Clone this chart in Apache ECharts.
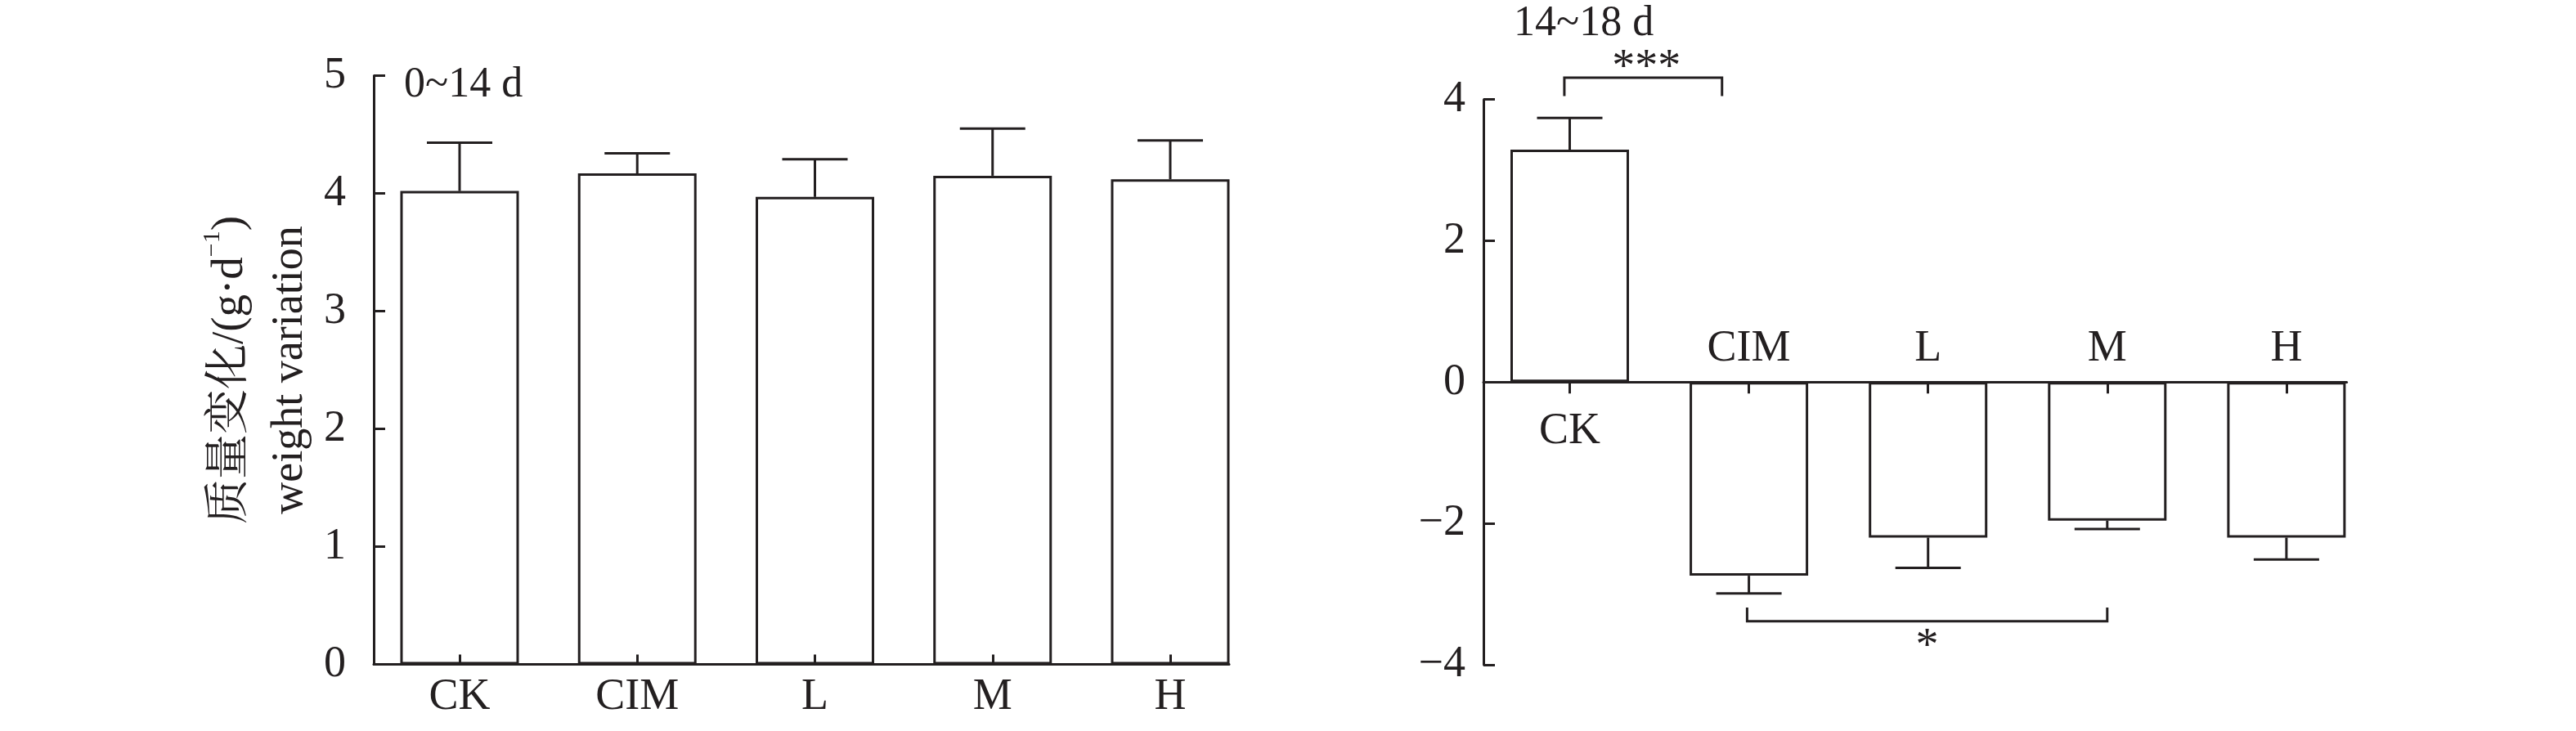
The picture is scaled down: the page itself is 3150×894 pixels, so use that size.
<!DOCTYPE html>
<html><head><meta charset="utf-8">
<script src="https://cdn.jsdelivr.net/npm/echarts@6/dist/echarts.min.js"></script>
<style>html,body{margin:0;padding:0;background:#fff}#c{width:3150px;height:894px}</style>
</head><body><div id="c"></div>
<script>
// ---- data ----
const categories = ['CK', 'CIM', 'L', 'M', 'H'];
const mean0to14 = [4.02, 4.17, 3.97, 4.15, 4.12];
const sd0to14 = [0.41, 0.17, 0.32, 0.40, 0.33];
const mean14to18 = [3.29, -2.74, -2.20, -1.96, -2.20];
const sd14to18 = [0.45, 0.25, 0.43, 0.12, 0.31];
const yTicksLeft = [0, 1, 2, 3, 4, 5];
const yTicksRight = [-4, -2, 0, 2, 4];
const panelTitles = ['0~14 d', '14~18 d'];
const yTitleCN = '质量变化/(g·d';
const yTitleSup = '−1';
const yTitleEN = 'weight variation';
// significance brackets (category position from/to, bracket value, leg end value)
const sigFrom = [-0.03, 0.99];
const sigTo = [0.85, 3.0];
const sigLine = [4.31, -3.385];
const sigLeg = [4.05, -3.19];
const sigLabels = ['***', '*'];

// ---- drawing ----
const INK = '#231f20';
const FONT = '"Liberation Serif","Times New Roman",serif';
const idx = categories.map((_, i) => i);
const belowIdx = idx.filter(i => mean14to18[i] >= 0);
const aboveIdx = idx.filter(i => mean14to18[i] < 0);
const lineStyle = { color: INK, width: 3 };
const fmtNum = v => (v < 0 ? '−' + (-v) : String(v));

// right panel grid geometry; x axes are moved to the y = 0 line
const rightGrid = { left: 1814, top: 121.7, width: 1055.6, height: 691.3 };
const yMinR = yTicksRight[0], yMaxR = yTicksRight[yTicksRight.length - 1];
const zeroFromBottom = rightGrid.height * (0 - yMinR) / (yMaxR - yMinR);
const zeroFromTop = rightGrid.height - zeroFromBottom;

function errItem(params, api) {
  const x = api.value(0), m = api.value(1), sd = api.value(2);
  const end = m >= 0 ? m + sd : m - sd;
  const a = api.coord([x, m]), b = api.coord([x, end]);
  const half = 40;
  return { type: 'group', children: [
    { type: 'line', shape: { x1: a[0], y1: a[1], x2: b[0], y2: b[1] }, style: { stroke: INK, lineWidth: 3 } },
    { type: 'line', shape: { x1: b[0] - half, y1: b[1], x2: b[0] + half, y2: b[1] }, style: { stroke: INK, lineWidth: 3 } }
  ]};
}
function sigItem(params, api) {
  const f = api.value(0), t = api.value(1), ly = api.value(2), lg = api.value(3);
  const p1 = api.coord([f, lg]), p2 = api.coord([f, ly]), p3 = api.coord([t, ly]), p4 = api.coord([t, lg]);
  const above = ly > lg;
  const mx = (p2[0] + p3[0]) / 2;
  return { type: 'group', children: [
    { type: 'polyline', shape: { points: [p1, p2, p3, p4] }, style: { stroke: INK, lineWidth: 3, fill: null } },
    { type: 'text', x: mx + (above ? 4 : 0), y: above ? p2[1] - 11 : p2[1] + 32,
      style: { text: sigLabels[params.dataIndex], fontSize: 56, fontFamily: FONT, fill: INK, align: 'center', verticalAlign: 'middle' } }
  ]};
}

const baseLabel = { fontSize: 54, fontFamily: FONT, color: INK };
const chart = echarts.init(document.getElementById('c'), null, { renderer: 'canvas' });
chart.setOption({
  animation: false,
  backgroundColor: '#fff',
  title: [
    { text: panelTitles[0], left: 494, top: 78, padding: 0, textStyle: { fontSize: 52, fontWeight: 'normal', fontFamily: FONT, color: INK } },
    { text: panelTitles[1], left: 1851, top: 3, padding: 0, textStyle: { fontSize: 52, fontWeight: 'normal', fontFamily: FONT, color: INK } }
  ],
  grid: [
    { left: 457, top: 92.5, width: 1046, height: 720, outerBoundsMode: 'none', containLabel: false },
    Object.assign({ outerBoundsMode: 'none', containLabel: false }, rightGrid)
  ],
  xAxis: [
    { type: 'value', gridIndex: 0, min: -0.4833, max: 4.3314, z: 3,
      axisLine: { show: true, onZero: false, lineStyle },
      axisTick: { show: true, inside: true, length: 12, customValues: idx, lineStyle },
      axisLabel: { customValues: idx, formatter: v => categories[Math.round(v)], margin: 13, ...baseLabel },
      splitLine: { show: false } },
    { type: 'value', gridIndex: 1, min: -0.4815, max: 4.3364, position: 'bottom', offset: -zeroFromBottom, z: 3,
      axisLine: { show: true, onZero: false, lineStyle },
      axisTick: { show: true, inside: false, length: 14, customValues: idx, lineStyle },
      axisLabel: { customValues: belowIdx, formatter: v => categories[Math.round(v)], margin: 33, ...baseLabel },
      splitLine: { show: false } },
    { type: 'value', gridIndex: 1, min: -0.4815, max: 4.3364, position: 'top', offset: -zeroFromTop, z: 3,
      axisLine: { show: false, onZero: false },
      axisTick: { show: false },
      axisLabel: { customValues: aboveIdx, formatter: v => categories[Math.round(v)], margin: 14, ...baseLabel },
      splitLine: { show: false } }
  ],
  yAxis: [
    { type: 'value', gridIndex: 0, min: yTicksLeft[0], max: yTicksLeft[yTicksLeft.length - 1], interval: yTicksLeft[1] - yTicksLeft[0],
      axisLine: { show: true, onZero: false, lineStyle },
      axisTick: { show: true, inside: true, length: 14, lineStyle },
      axisLabel: { fontSize: 54, fontFamily: FONT, color: INK, margin: 34, formatter: fmtNum },
      splitLine: { show: false },
      name: '{cn|' + yTitleCN + '}{sup|' + yTitleSup + '}{cn|)}\n{en|' + yTitleEN + '}',
      nameLocation: 'middle', nameRotate: 90, nameGap: 66,
      nameTextStyle: { color: INK, rich: {
        cn: { fontSize: 55, fontFamily: '"Liberation Serif","Noto Serif CJK SC","Noto Sans CJK SC",serif', lineHeight: 73, color: INK },
        sup: { fontSize: 30, fontFamily: FONT, lineHeight: 40, verticalAlign: 'top', color: INK },
        en: { fontSize: 54, fontFamily: FONT, lineHeight: 73, color: INK }
      } } },
    { type: 'value', gridIndex: 1, min: yMinR, max: yMaxR, interval: yTicksRight[1] - yTicksRight[0],
      axisLine: { show: true, onZero: false, lineStyle },
      axisTick: { show: true, inside: true, length: 14, lineStyle },
      axisLabel: { fontSize: 54, fontFamily: FONT, color: INK, margin: 22, formatter: fmtNum },
      splitLine: { show: false } }
  ],
  series: [
    { type: 'bar', xAxisIndex: 0, yAxisIndex: 0, barWidth: 145, silent: true,
      data: idx.map(i => [i, mean0to14[i]]),
      itemStyle: { color: '#fff', borderColor: INK, borderWidth: 3 } },
    { type: 'custom', xAxisIndex: 0, yAxisIndex: 0, renderItem: errItem, silent: true, z: 4,
      encode: { x: 0, y: 1 },
      data: idx.map(i => [i, mean0to14[i], sd0to14[i]]) },
    { type: 'bar', xAxisIndex: 1, yAxisIndex: 1, barWidth: 145, silent: true,
      data: idx.map(i => [i, mean14to18[i]]),
      itemStyle: { color: '#fff', borderColor: INK, borderWidth: 3 } },
    { type: 'custom', xAxisIndex: 1, yAxisIndex: 1, renderItem: errItem, silent: true, z: 4,
      encode: { x: 0, y: 1 },
      data: idx.map(i => [i, mean14to18[i], sd14to18[i]]) },
    { type: 'custom', xAxisIndex: 1, yAxisIndex: 1, renderItem: sigItem, silent: true, z: 4, clip: false,
      encode: { x: [0, 1], y: [2, 3] },
      data: sigLabels.map((_, k) => [sigFrom[k], sigTo[k], sigLine[k], sigLeg[k]]) }
  ]
});
</script>
</body></html>
